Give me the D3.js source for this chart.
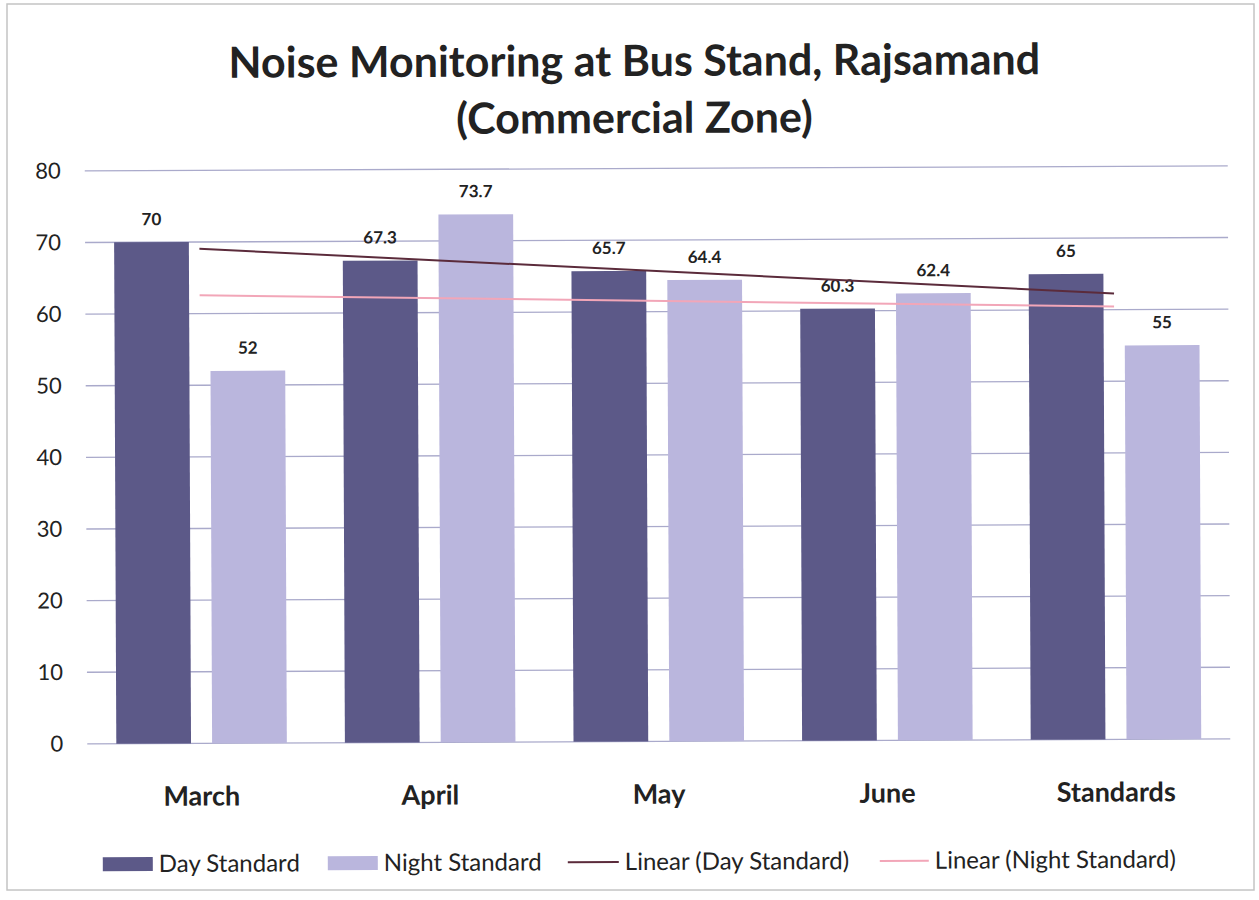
<!DOCTYPE html>
<html>
<head>
<meta charset="utf-8">
<script src="https://cdn.jsdelivr.net/npm/d3@7"></script>
<style>
  html, body { margin: 0; padding: 0; background: #fff; }
  svg { display: block; }
  text { font-family: Lato, "Open Sans", sans-serif; fill: #222; }
</style>
</head>
<body>
<svg id="chart" width="1259" height="900"></svg>
<script>
const categories = ["March", "April", "May", "June", "Standards"];
const dayValues = [70, 67.3, 65.7, 60.3, 65];
const nightValues = [52, 73.7, 64.4, 62.4, 55];
const yTicks = [0, 10, 20, 30, 40, 50, 60, 70, 80];
const seriesNames = ["Day Standard", "Night Standard"];
const titleLines = ["Noise Monitoring at Bus Stand, Rajsamand", "(Commercial Zone)"];

const colors = { day: "#5c5988", night: "#bab6dd", dayTrend: "#5b2b3b", nightTrend: "#f2a6b8", grid: "#aaaacb" };

const svg = d3.select("#chart");
svg.append("rect").attr("x", 7).attr("y", 4).attr("width", 1247).attr("height", 886)
  .attr("fill", "#fff").attr("stroke", "#c4c4c4").attr("stroke-width", 1.5);

const g = svg.append("g").attr("transform", "rotate(-0.25, 630, 450)");

const margin = { left: 86, right: 1229, top: 168.5, bottom: 741.5 };

const x0 = d3.scaleBand().domain(categories).range([margin.left, margin.right]).paddingInner(0.254).paddingOuter(0.127);
const x1 = d3.scaleBand().domain(seriesNames).range([0, x0.bandwidth()]).paddingInner(0.22);
const y = d3.scaleLinear().domain([0, 80]).range([margin.bottom, margin.top]);

// title
g.selectAll("text.title").data(titleLines).join("text")
  .attr("class", "title")
  .attr("x", 636).attr("y", (d, i) => 76 + i * 57)
  .attr("text-anchor", "middle")
  .style("font-size", "43px").style("font-weight", "bold")
  .text(d => d);

// gridlines
g.append("g").selectAll("line").data(yTicks).join("line")
  .attr("x1", margin.left).attr("x2", margin.right)
  .attr("y1", d => y(d)).attr("y2", d => y(d))
  .attr("stroke", colors.grid).attr("stroke-width", 1.3);

// y axis labels
const yAxis = d3.axisLeft(y).tickValues(yTicks).tickSize(0).tickPadding(24);
const ya = g.append("g").attr("transform", `translate(${margin.left},0)`).call(yAxis);
ya.select(".domain").remove();
ya.selectAll("text").style("font-size", "22px").style("font-family", "Lato, 'Open Sans', sans-serif").attr("fill", "#222");

// x axis labels
const xAxis = d3.axisBottom(x0).tickSize(0).tickPadding(43);
const xa = g.append("g").attr("transform", `translate(0,${margin.bottom})`).call(xAxis);
xa.select(".domain").remove();
xa.selectAll("text").style("font-size", "27px").style("font-weight", "bold")
  .style("font-family", "Lato, 'Open Sans', sans-serif").attr("fill", "#222");

// bars
const rows = categories.map((c, i) => ({ cat: c, vals: [
  { s: seriesNames[0], v: dayValues[i], c: colors.day },
  { s: seriesNames[1], v: nightValues[i], c: colors.night } ] }));

const grp = g.append("g").selectAll("g").data(rows).join("g")
  .attr("transform", d => `translate(${x0(d.cat)},0)`);
grp.selectAll("rect").data(d => d.vals).join("rect")
  .attr("x", d => x1(d.s)).attr("width", x1.bandwidth())
  .attr("y", d => y(d.v)).attr("height", d => y(0) - y(d.v))
  .attr("fill", d => d.c);
grp.selectAll("text").data(d => d.vals).join("text")
  .attr("x", d => x1(d.s) + x1.bandwidth() / 2)
  .attr("y", d => y(d.v) - 17)
  .attr("text-anchor", "middle")
  .style("font-size", "17px").style("font-weight", "bold")
  .text(d => d.v);

// linear trend lines (least squares, as Excel does)
function trend(vals) {
  const n = vals.length, xs = vals.map((_, i) => i);
  const mx = d3.mean(xs), my = d3.mean(vals);
  const slope = d3.sum(xs, (xx, i) => (xx - mx) * (vals[i] - my)) / d3.sum(xs, xx => (xx - mx) ** 2);
  const b = my - slope * mx;
  return [0, n - 1].map(i => ({ i, v: b + slope * i }));
}
const cx = i => x0(categories[i]) + x0.bandwidth() / 2;
const line = d3.line().x(d => cx(d.i)).y(d => y(d.v));
g.append("path").attr("d", line(trend(nightValues))).attr("fill", "none")
  .attr("stroke", colors.nightTrend).attr("stroke-width", 2);
g.append("path").attr("d", line(trend(dayValues))).attr("fill", "none")
  .attr("stroke", colors.dayTrend).attr("stroke-width", 2);

// legend
const lg = g.append("g").attr("transform", "translate(0,862)");
const legendItems = [
  { type: "rect", color: colors.day, label: "Day Standard", x: 101, w: 50 },
  { type: "rect", color: colors.night, label: "Night Standard", x: 326, w: 50 },
  { type: "line", color: colors.dayTrend, label: "Linear (Day Standard)", x: 566, w: 51 },
  { type: "line", color: colors.nightTrend, label: "Linear (Night Standard)", x: 878, w: 49 }
];
legendItems.forEach(it => {
  if (it.type === "rect") {
    lg.append("rect").attr("x", it.x).attr("y", -7).attr("width", it.w).attr("height", 14).attr("fill", it.color);
  } else {
    lg.append("line").attr("x1", it.x).attr("x2", it.x + it.w).attr("y1", 0).attr("y2", 0)
      .attr("stroke", it.color).attr("stroke-width", 2);
  }
  lg.append("text").attr("x", it.x + it.w + 6).attr("y", 8)
    .style("font-size", "24px").text(it.label);
});
</script>
</body>
</html>
